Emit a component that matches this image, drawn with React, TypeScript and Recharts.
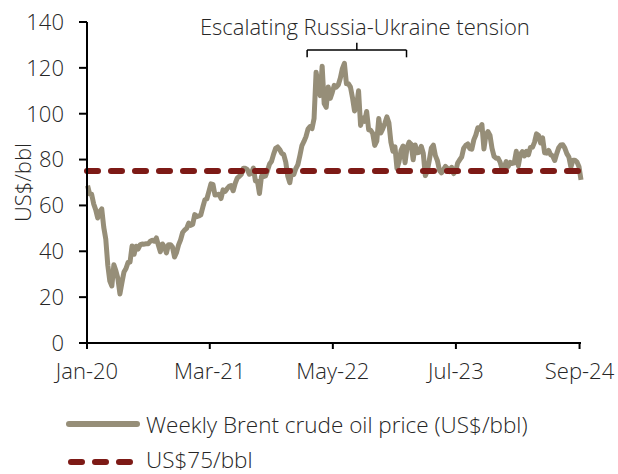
import React from 'react';
import {
  LineChart,
  Line,
  XAxis,
  YAxis,
  ReferenceLine,
  ReferenceDot,
} from 'recharts';

// Weekly Brent closes (US$/bbl), first week ending 3 Jan 2020, one value per week
const brent2020 = [
  68.6, 65.0, 64.9, 60.7, 58.2, 54.5, 57.3, 58.5, 50.5, 45.3, 33.9, 27.0, 24.9,
  34.1, 31.5, 28.1, 21.4, 26.4, 31.0, 32.5, 35.1, 35.3, 42.3, 38.7, 42.2, 41.0,
  42.8, 43.2, 43.1, 43.3, 43.3, 44.4, 44.8, 44.4, 45.8, 42.7, 39.8, 43.2, 41.9,
  39.3, 42.9, 42.9, 41.8, 37.5, 39.5, 42.8, 45.0, 48.2, 49.3, 50.0, 52.3, 51.3,
];
const brent2021 = [
  51.8, 56.0, 55.1, 55.4, 55.9, 59.3, 62.4, 62.9, 66.1, 69.4, 69.2, 64.5, 64.6,
  64.9, 63.0, 66.8, 66.1, 67.3, 68.3, 68.7, 66.4, 69.6, 71.9, 72.7, 73.5, 76.2,
  76.2, 75.6, 73.6, 74.1, 76.3, 70.7, 70.6, 65.2, 72.7, 72.6, 72.9, 75.3, 78.1,
  79.3, 82.4, 84.9, 85.5, 84.4, 82.7, 82.2, 78.9, 72.7, 69.9, 75.2, 73.5, 76.1, 77.8,
];
const brent2022 = [
  81.8, 86.1, 87.9, 90.0, 93.3, 94.4, 93.5, 97.9, 118.1, 112.7, 107.9, 120.7,
  104.4, 102.8, 111.7, 106.7, 109.3, 112.4, 111.6, 112.6, 115.6, 119.7, 122.0,
  113.1, 113.1, 111.6, 107.0, 101.2, 103.2, 110.0, 94.9, 98.2, 96.7, 101.0, 93.0,
  92.8, 91.4, 86.2, 88.0, 97.9, 91.6, 93.5, 95.8, 98.6, 96.0, 87.6, 83.6, 85.6,
  76.1, 79.0, 83.9, 85.9,
];
const brent2023 = [
  78.6, 85.3, 87.6, 86.7, 79.9, 86.4, 83.0, 83.2, 85.8, 82.8, 73.0, 75.0, 79.8,
  85.1, 86.3, 81.7, 79.5, 75.3, 74.2, 75.6, 77.0, 76.1, 74.8, 76.6, 73.9, 74.9,
  78.5, 79.9, 81.1, 85.0, 86.2, 86.8, 84.8, 84.5, 88.6, 90.7, 93.9, 93.3, 95.3,
  84.6, 90.9, 92.2, 90.5, 84.9, 81.4, 80.6, 80.6, 78.9, 75.8, 76.6, 79.1, 77.0,
];
const brent2024 = [
  78.8, 78.3, 78.6, 83.6, 77.3, 82.2, 83.5, 81.6, 83.6, 82.1, 85.3, 85.4, 87.5,
  91.2, 90.5, 87.3, 89.5, 83.0, 82.8, 84.0, 82.1, 81.6, 79.6, 82.6, 85.2, 86.4,
  86.5, 85.0, 82.6, 81.1, 76.8, 79.7, 79.7, 79.0, 76.9, 71.1,
];

const threshold = 75;

// x axis is days since 1 Jan 2020
const firstWeekDay = 2;
const tickDays = [0, 425, 851, 1277, 1705];
const tickLabels = ['Jan-20', 'Mar-21', 'May-22', 'Jul-23', 'Sep-24'];
const yTicks = [0, 20, 40, 60, 80, 100, 120, 140];

// annotation bracket: Feb-22 to Jan-23
const bracketStart = 762;
const bracketEnd = 1106;
const bracketMid = 934;
const annotation = 'Escalating Russia-Ukraine tension';

const prices = [...brent2020, ...brent2021, ...brent2022, ...brent2023, ...brent2024];
const data = prices.map((price, i) => ({ day: firstWeekDay + i * 7, price }));

const BEIGE = '#968e78';
const RED = '#7d1a16';
const TEXT = '#262626';
const FONT = '"Open Sans", Lato, sans-serif';
const FS = 22;
const FW = 300;

export default function App() {
  const tickStyle = { fill: TEXT, fontSize: FS, fontWeight: FW };
  const legendText = { marginLeft: 4, fontSize: 22.5, fontWeight: FW, color: TEXT, whiteSpace: 'nowrap' as const };
  return (
    <div
      style={{
        position: 'absolute',
        left: 0,
        top: 0,
        width: 618,
        height: 474,
        background: '#fff',
        fontFamily: FONT,
        overflow: 'hidden',
      }}
    >
      <LineChart
        width={618}
        height={474}
        data={data}
        margin={{ top: 22, right: 37, left: 0, bottom: 91 }}
        style={{ fontFamily: FONT }}
      >
        <XAxis
          dataKey="day"
          type="number"
          domain={[0, 1710]}
          ticks={tickDays}
          interval={0}
          tickFormatter={(v) => tickLabels[tickDays.indexOf(v)]}
          tick={tickStyle}
          tickSize={6}
          tickMargin={14}
          height={40}
          axisLine={{ stroke: '#000', strokeWidth: 2 }}
          tickLine={{ stroke: '#000', strokeWidth: 2 }}
        />
        <YAxis
          domain={[0, 140]}
          ticks={yTicks}
          interval={0}
          tick={tickStyle}
          tickSize={8}
          tickMargin={15}
          width={87}
          axisLine={{ stroke: '#000', strokeWidth: 2 }}
          tickLine={{ stroke: '#000', strokeWidth: 2 }}
          label={{
            value: 'US$/bbl',
            angle: -90,
            position: 'center',
            dx: -20,
            fill: TEXT,
            fontSize: FS,
            fontWeight: FW,
          }}
        />
        <Line
          type="linear"
          dataKey="price"
          stroke={BEIGE}
          strokeWidth={5}
          strokeLinejoin="round"
          dot={false}
          activeDot={false}
          isAnimationActive={false}
        />
        <ReferenceLine
          y={threshold}
          stroke={RED}
          strokeWidth={6}
          strokeDasharray="11 13"
          strokeLinecap="round"
        />
        <ReferenceLine
          segment={[{ x: bracketStart, y: 127.8 }, { x: bracketEnd, y: 127.8 }]}
          stroke="#000"
          strokeWidth={1.5}
          ifOverflow="visible"
        />
        <ReferenceLine
          segment={[{ x: bracketStart, y: 127.8 }, { x: bracketStart, y: 124.6 }]}
          stroke="#000"
          strokeWidth={1.5}
          ifOverflow="visible"
        />
        <ReferenceLine
          segment={[{ x: bracketEnd, y: 127.8 }, { x: bracketEnd, y: 124.6 }]}
          stroke="#000"
          strokeWidth={1.5}
          ifOverflow="visible"
        />
        <ReferenceLine
          segment={[{ x: bracketMid, y: 127.8 }, { x: bracketMid, y: 130.9 }]}
          stroke="#000"
          strokeWidth={1.5}
          ifOverflow="visible"
        />
        <ReferenceDot
          x={962}
          y={137.8}
          r={0}
          fill="none"
          stroke="none"
          ifOverflow="visible"
          label={{ value: annotation, position: 'center', fill: TEXT, fontSize: FS, fontWeight: FW }}
        />
      </LineChart>

      <div style={{ position: 'absolute', left: 66, top: 410, height: 28, display: 'flex', alignItems: 'center' }}>
        <svg width={76} height={28}>
          <line x1={3} y1={14} x2={71} y2={14} stroke={BEIGE} strokeWidth={6} strokeLinecap="round" />
        </svg>
        <span style={legendText}>Weekly Brent crude oil price (US$/bbl)</span>
      </div>
      <div style={{ position: 'absolute', left: 66, top: 448, height: 24, display: 'flex', alignItems: 'center' }}>
        <svg width={76} height={24}>
          <line
            x1={5}
            y1={14}
            x2={66}
            y2={14}
            stroke={RED}
            strokeWidth={6}
            strokeDasharray="11 13"
            strokeLinecap="round"
          />
        </svg>
        <span style={{ ...legendText, display: 'block', lineHeight: '24px', height: 24 }}>US$75/bbl</span>
      </div>
    </div>
  );
}
